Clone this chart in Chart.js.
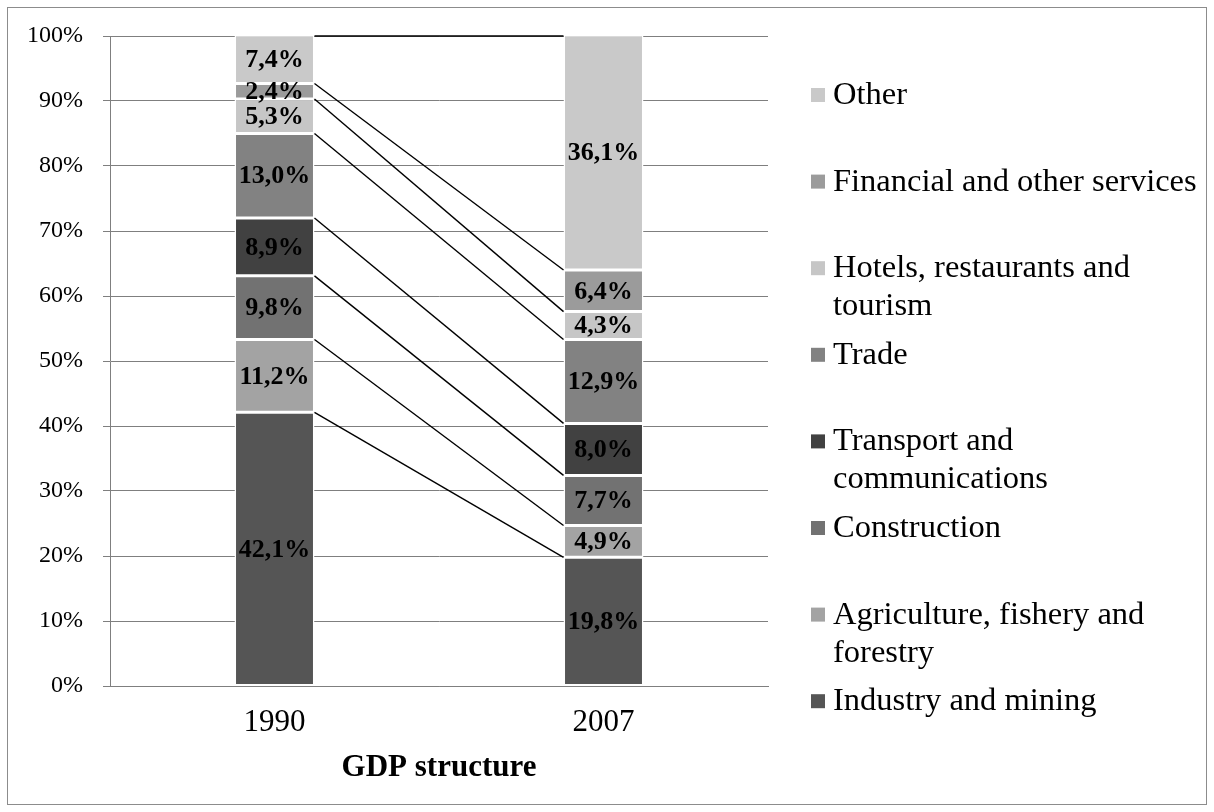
<!DOCTYPE html>
<html>
<head>
<meta charset="utf-8">
<script src="https://cdn.jsdelivr.net/npm/chart.js@4.4.1/dist/chart.umd.min.js"></script>
<style>
  html, body { margin: 0; padding: 0; background: #fff; }
  #wrap { width: 1214px; height: 812px; }
</style>
</head>
<body>
<div id="wrap"><canvas id="gdpChart" width="1214" height="812"></canvas></div>
<script>
// categories
const years = ['1990', '2007'];

// sectors, bottom to top of the stack
const sectors = [
    'Industry and mining',
    'Agriculture, fishery and forestry',
    'Construction',
    'Transport and communications',
    'Trade',
    'Hotels, restaurants and tourism',
    'Financial and other services',
    'Other'
];

// legend text as it wraps in the picture
const legendLines = [
    ['Industry and mining'],
    ['Agriculture, fishery and', 'forestry'],
    ['Construction'],
    ['Transport and', 'communications'],
    ['Trade'],
    ['Hotels, restaurants and', 'tourism'],
    ['Financial and other services'],
    ['Other']
];

// share of GDP, %
const share1990 = [42.1, 11.2, 9.8, 8.9, 13.0, 5.3, 2.4, 7.4];
const share2007 = [19.8, 4.9, 7.7, 8.0, 12.9, 4.3, 6.4, 36.1];

const greys = ['#555555', '#a3a3a3', '#727272', '#414141', '#828282', '#c6c6c6', '#9b9b9b', '#c9c9c9'];

const serif = "'Liberation Serif', 'Times New Roman', serif";

const datasets = sectors.map(function(name, i) {
    return {
        label: name,
        data: [share1990[i], share2007[i]],
        backgroundColor: greys[i],
        borderColor: '#ffffff',
        borderWidth: 1.5,
        borderSkipped: false
    };
});

// white page with thin grey frame
const framePlugin = {
    id: 'frame',
    beforeDraw: function(chart) {
        const ctx = chart.ctx;
        ctx.save();
        ctx.fillStyle = '#ffffff';
        ctx.fillRect(0, 0, chart.width, chart.height);
        ctx.strokeStyle = '#8c8c8c';
        ctx.lineWidth = 1;
        ctx.strokeRect(7.5, 7.5, chart.width - 15, chart.height - 15);
        ctx.restore();
    }
};

// series lines between the tops of matching segments
const seriesLinesPlugin = {
    id: 'seriesLines',
    afterDatasetsDraw: function(chart) {
        const ctx = chart.ctx;
        ctx.save();
        ctx.strokeStyle = '#000000';
        ctx.lineWidth = 1.4;
        chart.data.datasets.forEach(function(ds, i) {
            const meta = chart.getDatasetMeta(i);
            const a = meta.data[0], b = meta.data[1];
            ctx.beginPath();
            ctx.moveTo(a.x + a.width / 2, Math.max(a.y, chart.chartArea.top));
            ctx.lineTo(b.x - b.width / 2, Math.max(b.y, chart.chartArea.top));
            ctx.stroke();
        });
        ctx.restore();
    }
};

// value labels in the middle of each segment
const valueLabelsPlugin = {
    id: 'valueLabels',
    afterDatasetsDraw: function(chart) {
        const ctx = chart.ctx;
        ctx.save();
        ctx.font = 'bold 26px ' + serif;
        ctx.fillStyle = '#000000';
        ctx.textAlign = 'center';
        ctx.textBaseline = 'middle';
        chart.data.datasets.forEach(function(ds, i) {
            chart.getDatasetMeta(i).data.forEach(function(el, j) {
                const txt = ds.data[j].toFixed(1).replace('.', ',') + '%';
                ctx.fillText(txt, el.x, (el.y + el.base) / 2 + 1);
            });
        });
        ctx.restore();
    }
};

// legend on the right, top entry = top of stack
const sideLegendPlugin = {
    id: 'sideLegend',
    afterDraw: function(chart) {
        const ctx = chart.ctx;
        const markerX = 811, textX = 833, firstY = 95, step = 86.6, lineGap = 38, box = 14;
        ctx.save();
        ctx.font = '32.5px ' + serif;
        ctx.textAlign = 'left';
        ctx.textBaseline = 'alphabetic';
        for (let k = 0; k < sectors.length; k++) {
            const i = sectors.length - 1 - k;
            const y = firstY + step * k;
            ctx.fillStyle = greys[i];
            ctx.fillRect(markerX, y - box / 2, box, box);
            ctx.fillStyle = '#000000';
            legendLines[i].forEach(function(line, n) {
                ctx.fillText(line, textX, y + 9 + n * lineGap);
            });
        }
        ctx.restore();
    }
};

const config = {
    type: 'bar',
    data: {
        labels: years,
        datasets: datasets
    },
    options: {
        responsive: false,
        animation: false,
        layout: {
            padding: { top: 36, left: 8, right: 446, bottom: 16 }
        },
        plugins: {
            legend: { display: false },
            tooltip: { enabled: false }
        },
        datasets: {
            bar: {
                categoryPercentage: 1,
                barPercentage: 0.243
            }
        },
        scales: {
            x: {
                stacked: true,
                grid: { display: false, drawTicks: false },
                border: { display: true, color: '#7f7f7f', width: 1 },
                ticks: {
                    color: '#000000',
                    padding: 18,
                    font: { family: serif, size: 31 }
                },
                title: {
                    display: true,
                    text: 'GDP structure',
                    color: '#000000',
                    padding: { top: 0, bottom: 9 },
                    font: { family: serif, size: 31, weight: 'bold' }
                },
                afterFit: function(scale) { scale.height = 110; }
            },
            y: {
                stacked: true,
                min: 0,
                max: 100,
                grid: { color: '#7f7f7f', lineWidth: 1, tickLength: 7 },
                border: { display: true, color: '#7f7f7f', width: 1 },
                ticks: {
                    stepSize: 10,
                    color: '#000000',
                    padding: 20,
                    font: { family: serif, size: 24 },
                    callback: function(v) { return v + '%'; }
                },
                afterFit: function(scale) { scale.width = 102; }
            }
        }
    },
    plugins: [framePlugin, seriesLinesPlugin, valueLabelsPlugin, sideLegendPlugin]
};

new Chart(document.getElementById('gdpChart'), config);
</script>
</body>
</html>
